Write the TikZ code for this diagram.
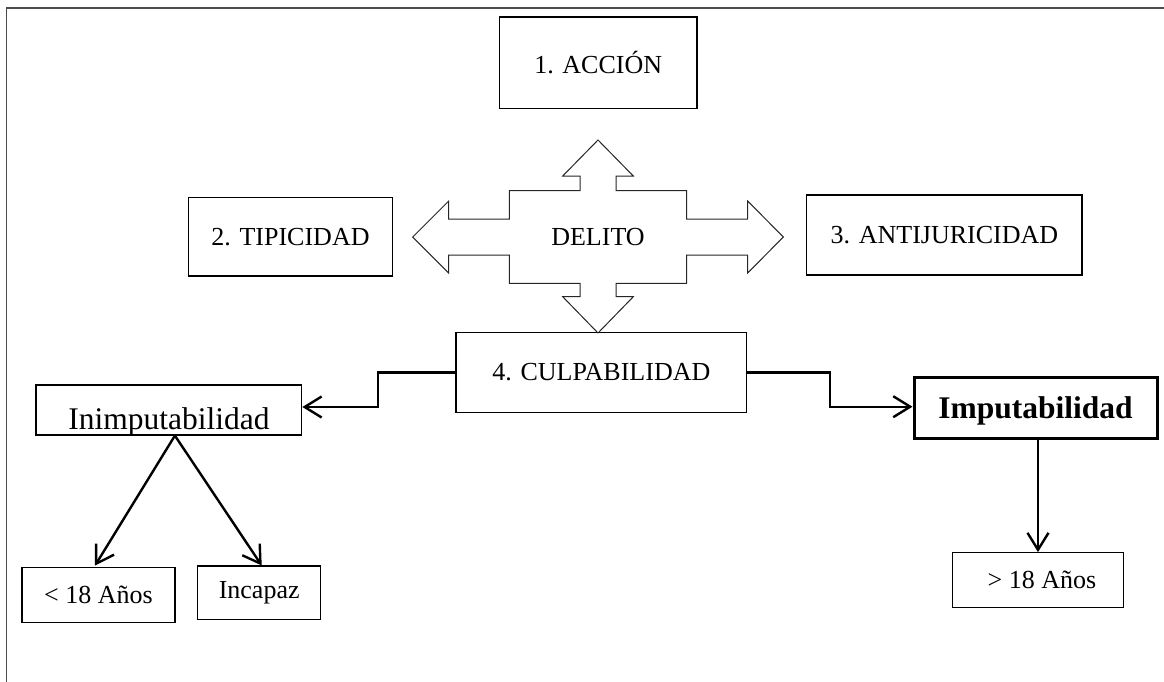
\documentclass[tikz,border=0pt]{standalone}
\usepackage{fontspec}
\setmainfont{Liberation Serif}
\usetikzlibrary{arrows.meta}
\begin{document}
\begin{tikzpicture}[x=1pt,y=1pt,
  box/.style={draw=black, line width=1.2pt, inner sep=0pt, font=\fontsize{26}{30}\selectfont},
  bigbox/.style={box, font=\fontsize{31.5}{36}\selectfont},
  conn/.style={line width=2.4pt, -{Straight Barb[length=17pt,width=21pt,line width=2.4pt]}},
  framerule/.style={draw=black!70, line width=1.5pt},
  crossline/.style={draw=black!85, line width=1pt, line join=miter}]
\useasboundingbox (0,0) rectangle (1164,-681);
% outer frame
\draw[framerule] (6.7,-690) -- (6.7,-8) -- (1170,-8);

% boxes
\node[box, minimum width=197.7, minimum height=91.3] (accion) at (598.2,-62.6) {1. ACCIÓN};
\node[box, minimum width=204.4, minimum height=78.7] (tipic) at (290.5,-236.7) {2. TIPICIDAD};
\node[box, minimum width=275.3, minimum height=80] (anti) at (944.4,-235) {3. ANTIJURICIDAD};
\node[box, minimum width=290.7, minimum height=79.3] (culp) at (601.4,-372.5) {4. CULPABILIDAD};
\node[bigbox, minimum width=265.7, text height=44, text depth=6, anchor=base] (inimp) at (168.9,-429) {Inimputabilidad};
\node[bigbox, line width=3pt, minimum width=243, minimum height=60.6, text depth=0pt] (imp) at (1035.5,-408) {\textbf{Imputabilidad}};
\node[box, minimum width=153, minimum height=55] (menor) at (98.5,-595.2) {< 18 Años};
\node[box, minimum width=123, minimum height=53.3] (incapaz) at (259.2,-592.7) {Incapaz};
\node[box, minimum width=170.6, minimum height=54.6] (mayor) at (1038,-580) {\hspace{8pt}> 18 Años};

% cross arrow around DELITO
\draw[crossline]
  (598,-140) -- (633.3,-176) -- (616,-176) -- (616,-190.7) -- (686.7,-190.7) -- (686.7,-219)
  -- (747.7,-219) -- (747.7,-201) -- (783.3,-237) -- (747.7,-273) -- (747.7,-255) -- (686.7,-255)
  -- (686.7,-283.3) -- (616,-283.3) -- (616,-296.7) -- (633.3,-296.7) -- (598,-333)
  -- (562.7,-296.7) -- (580,-296.7) -- (580,-283.3) -- (509.3,-283.3) -- (509.3,-255)
  -- (448.7,-255) -- (448.7,-273) -- (412.7,-237) -- (448.7,-201) -- (448.7,-219) -- (509.3,-219)
  -- (509.3,-190.7) -- (580,-190.7) -- (580,-176) -- (562.7,-176) -- cycle;
\node[font=\fontsize{26}{30}\selectfont, inner sep=0pt] (delito) at (598,-237) {DELITO};

% connectors
\draw[conn] (culp.west) -- ++(-77.7,0) |- ([yshift=3]inimp.east);
\draw[conn] (culp.east) -- ++(82.6,0) |- ([yshift=1.3]imp.west);
\draw[conn] (imp.south -| mayor.north) -- (mayor.north);
\draw[conn] ([xshift=6]inimp.south) -- ([xshift=-3.5,yshift=1.5]menor.north);
\draw[conn] ([xshift=6]inimp.south) -- ([xshift=2.5]incapaz.north);
\end{tikzpicture}
\end{document}
